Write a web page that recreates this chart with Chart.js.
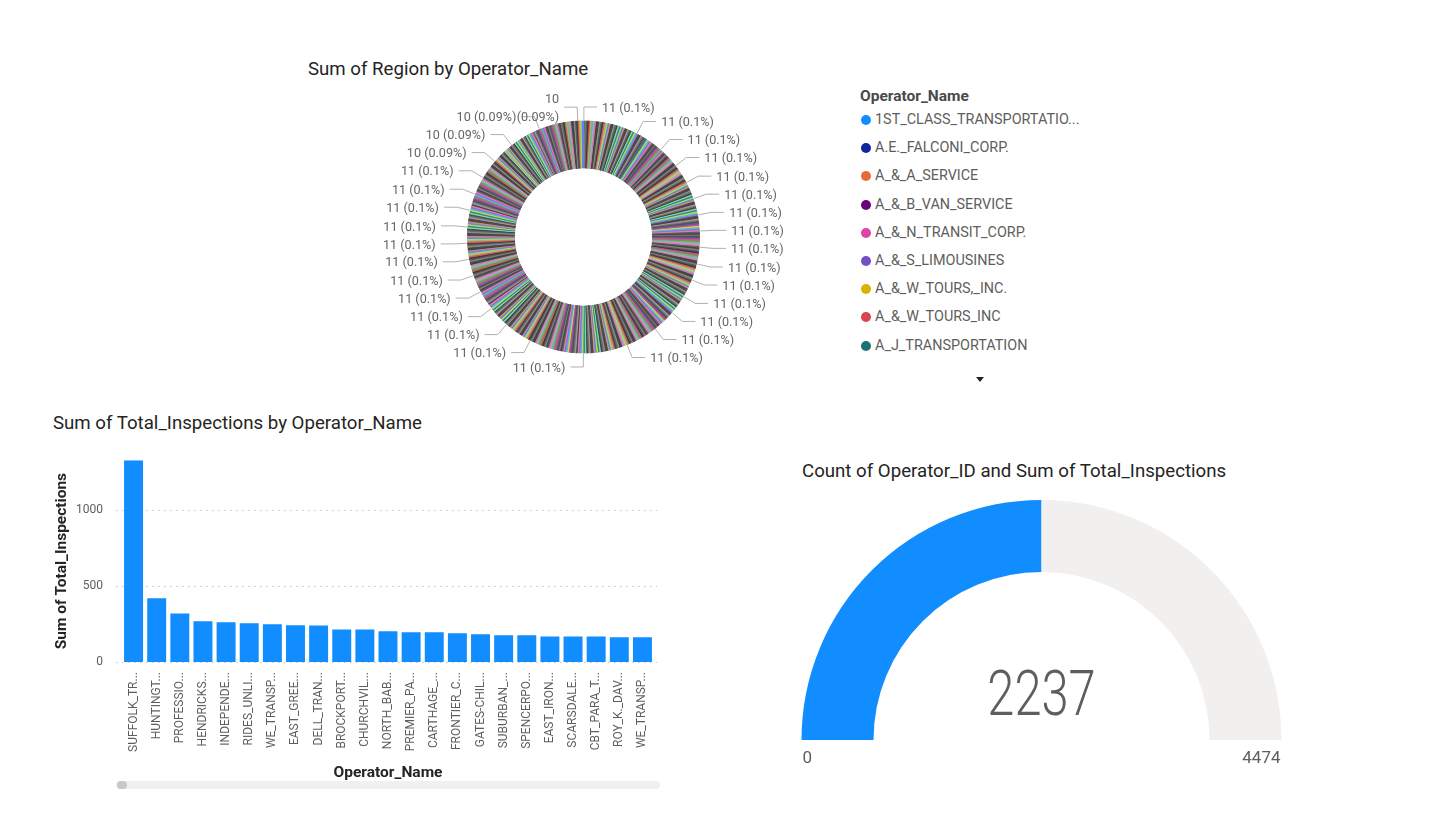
<!DOCTYPE html>
<html><head><meta charset="utf-8"><title>Operator dashboard</title>
<script src="https://cdn.jsdelivr.net/npm/chart.js@4.4.1/dist/chart.umd.min.js"></script>
<style>
html,body{margin:0;padding:0;background:#fff;}
body{width:1450px;height:822px;position:relative;overflow:hidden;font-family:Roboto,"Noto Sans",sans-serif;}
.abs{position:absolute;}
.vtitle{font-size:18.67px;line-height:20px;color:#252423;white-space:nowrap;}
canvas{position:absolute;display:block;}
.lg-title{position:absolute;left:860px;height:20px;line-height:20px;font-size:15.5px;font-weight:bold;color:#4A4A4A;white-space:nowrap;}
.lg-item{position:absolute;left:861px;height:20px;line-height:20px;font-size:14.4px;color:#605E5C;white-space:nowrap;}
.lg-dot{position:absolute;left:0;top:5px;width:10px;height:10px;border-radius:50%;}
.lg-text{position:absolute;left:14px;top:0;}
.lg-more{position:absolute;left:975.5px;top:377px;width:0;height:0;border-left:4px solid transparent;border-right:4px solid transparent;border-top:5px solid #252423;}
</style></head>
<body>
<div class="abs vtitle" style="left:308px;top:58.6px;">Sum of Region by Operator_Name</div>
<div class="abs vtitle" style="left:53px;top:412.6px;">Sum of Total_Inspections by Operator_Name</div>
<div class="abs vtitle" style="left:802px;top:460.6px;">Count of Operator_ID and Sum of Total_Inspections</div>
<div id="legend"></div>
<canvas id="donut" width="560" height="300" style="left:300px;top:85px;width:560px;height:300px;"></canvas>
<canvas id="bar" width="640" height="366" style="left:40px;top:434px;width:640px;height:366px;"></canvas>
<canvas id="gauge" width="520" height="300" style="left:781px;top:490px;width:520px;height:300px;"></canvas>
<div class="abs" style="left:116px;top:781px;width:544px;height:8px;border-radius:4px;background:#F0F0F0;"></div>
<div class="abs" style="left:117px;top:781px;width:10px;height:8px;border-radius:4px;background:#C8C8C8;"></div>
<script>
// ---------------- data ----------------
const legendTitle = 'Operator_Name';
const legendNames = ['1ST_CLASS_TRANSPORTATIO...','A.E._FALCONI_CORP.','A_&_A_SERVICE','A_&_B_VAN_SERVICE','A_&_N_TRANSIT_CORP.','A_&_S_LIMOUSINES','A_&_W_TOURS,_INC.','A_&_W_TOURS_INC','A_J_TRANSPORTATION'];
const legendColors = ['#118DFF','#12239E','#E66C37','#6B007B','#E044A7','#744EC2','#D9B300','#D64550','#197278'];

// Sum of Region per operator (donut slices, sorted descending)
const regionSums = [
/* 1-40 */    11,11,11,11,11,11,11,11,11,11, 11,11,11,11,11,11,11,11,11,11, 11,11,11,11,11,11,11,11,11,11, 11,11,11,11,11,11,11,11,11,11,
/* 41-80 */   11,11,11,11,11,11,11,11,11,11, 11,11,11,11,11,11,11,11,11,11, 11,11,11,11,11,11,11,11,11,11, 11,11,11,11,11,11,11,11,11,11,
/* 81-120 */  11,11,11,11,11,11,11,11,11,11, 11,11,11,11,11,11,11,11,11,11, 11,11,11,11,11,11,11,11,11,11, 11,11,11,11,11,11,11,11,11,11,
/* 121-160 */ 11,11,11,11,11,11,11,11,11,11, 11,11,11,11,11,11,11,11,11,11, 11,11,11,11,11,11,11,11,11,11, 11,11,11,11,11,11,11,11,11,11,
/* 161-200 */ 11,11,11,11,11,11,11,11,11,11, 11,11,11,11,11,11,11,11,11,11, 11,11,11,11,11,11,11,11,11,11, 11,11,11,11,11,11,11,11,11,11,
/* 201-240 */ 11,11,11,11,11,11,11,11,11,11, 11,11,11,11,11,11,11,11,11,11, 11,11,11,11,11,11,11,11,11,11, 11,11,11,11,11,11,11,11,11,11,
/* 241-280 */ 11,11,11,11,11,11,11,11,11,11, 11,11,11,11,11,11,11,11,11,11, 11,11,11,11,11,11,11,11,11,11, 11,11,11,11,11,11,11,11,11,11,
/* 281-320 */ 11,11,11,11,11,11,11,11,11,11, 11,11,11,11,11,11,11,11,11,11, 11,11,11,11,11,11,11,11,11,11, 11,11,11,11,11,11,11,11,11,11,
/* 321-360 */ 11,11,11,11,11,11,11,11,11,11, 11,11,11,11,11,11,11,11,11,11, 11,11,11,11,11,11,11,11,11,11, 11,11,11,11,11,11,11,11,11,11,
/* 361-400 */ 11,11,11,11,11,11,11,11,11,11, 11,11,11,11,11,11,11,11,11,11, 11,11,11,11,11,11,11,11,11,11, 11,11,11,11,11,11,11,11,11,11,
/* 401-440 */ 11,11,11,11,11,11,11,11,11,11, 11,11,11,11,11,11,11,11,11,11, 11,11,11,11,11,11,11,11,11,11, 11,11,11,11,11,11,11,11,11,11,
/* 441-480 */ 11,11,11,11,11,11,11,11,11,11, 11,11,11,11,11,11,11,11,11,11, 11,11,11,11,11,11,11,11,11,11, 11,11,11,11,11,11,11,11,11,11,
/* 481-520 */ 11,11,11,11,11,11,11,11,11,11, 11,11,11,11,11,11,11,11,11,11, 11,11,11,11,11,11,11,11,11,11, 11,11,11,11,11,11,11,11,11,11,
/* 521-560 */ 11,11,11,11,11,11,11,11,11,11, 11,11,11,11,11,11,11,11,11,11, 11,11,11,11,11,11,11,11,11,11, 11,11,11,11,11,11,11,11,11,11,
/* 561-600 */ 11,11,11,11,11,11,11,11,11,11, 11,11,11,11,11,11,11,11,11,11, 11,11,11,11,11,11,11,11,11,11, 11,11,11,11,11,11,11,11,11,11,
/* 601-640 */ 11,11,11,11,11,11,11,11,11,11, 11,11,11,11,11,11,11,11,11,11, 11,11,11,11,11,11,11,11,11,11, 11,11,11,11,11,11,11,11,11,11,
/* 641-680 */ 11,11,11,11,11,11,11,11,11,11, 11,11,11,11,11,11,11,11,11,11, 11,11,11,11,11,11,11,11,11,11, 11,11,11,11,11,11,11,11,11,11,
/* 681-720 */ 11,11,11,11,11,11,11,11,11,11, 11,11,11,11,11,11,11,11,11,11, 11,11,11,11,11,11,11,11,11,11, 11,11,11,11,11,11,11,11,11,11,
/* 721-760 */ 11,11,11,11,11,11,11,11,11,11, 11,11,11,11,11,11,11,11,11,11, 11,11,11,11,11,11,11,11,11,11, 11,11,11,11,11,11,11,11,11,11,
/* 761-800 */ 11,11,11,11,11,11,11,11,11,11, 11,11,11,11,11,11,11,11,11,11, 11,11,11,11,11,11,11,11,11,11, 11,11,11,11,11,11,11,11,11,11,
/* 801-840 */ 11,11,11,11,11,11,11,11,11,11, 11,11,11,11,11,11,11,11,11,11, 11,11,11,11,11,11,11,11,11,11, 11,11,11,11,11,11,11,11,11,11,
/* 841-880 */ 10,10,10,10,10,10,10,10,10,10, 10,10,10,10,10,10,10,10,10,10, 10,10,10,10,10,10,10,10,10,10, 10,10,10,10,10,10,10,10,10,10,
/* 881-920 */ 10,10,10,10,10,10,10,10,10,10, 10,10,10,10,10,10,10,10,10,10, 10,10,10,10,10,10,10,10,10,10, 10,10,10,10,10,10,10,10,10,10,
/* 921-960 */ 10,10,10,10,10,10,10,10,10,10, 10,10,10,10,10,10,10,10,10,10, 10,10,10,10,10,10,10,10,10,10, 10,10,10,10,10,10,10,10,10,10,
/* 961-1000 */10,10,10,10,10,10,10,10,10,10, 10,10,10,10,10,10,10,10,10,10, 10,10,10,10,10,10,10,10,10,10, 10,10,10,10,10,10,10,10,10,10,
/* 1001-1010 */10,10,10,10,10,10,10,10,10,10
];

const barCategories = ['SUFFOLK_TR...','HUNTINGT...','PROFESSIO...','HENDRICKS...','INDEPENDE...','RIDES_UNLI...','WE_TRANSP...','EAST_GREE...','DELL_TRAN...','BROCKPORT...','CHURCHVIL...','NORTH_BAB...','PREMIER_PA...','CARTHAGE_...','FRONTIER_C...','GATES-CHIL...','SUBURBAN_...','SPENCERPO...','EAST_IRON...','SCARSDALE...','CBT_PARA_T...','ROY_K._DAV...','WE_TRANSP...'];
const barValues = [1324,418,319,267,260,254,247,241,240,214,214,201,195,195,188,182,175,175,168,168,168,162,162];
const barTicks = [0, 500, 1000];

const gaugeValue = 2237;
const gaugeMin = 0;
const gaugeMax = 4474;

// ---------------- styles ----------------
Chart.defaults.font.family = 'Roboto, "Noto Sans", sans-serif';
Chart.defaults.color = '#605E5C';

const sliceTones = ['#3A3A3A','#444444','#4F4F4F','#5A5A5A','#666666','#727272','#7F7F7F','#8C8C8C','#9A9A9A','#4A4540','#45493F','#4D434A','#5B5F66','#404448','#524B45',
  '#E07BAA','#C97E9A','#D08C86','#9C6AD8','#B39DDB','#5F86E0','#3EC2D8','#5AC574','#9FDC63','#C7D84A','#8C8A58','#BFA377','#36837F','#CC4AA4','#D05A5A','#7ED9B3','#6E5890'];
const sliceColors = regionSums.map((v, i) => sliceTones[((Math.floor(i / 2) + 7) * 2654435761 >>> 9) % sliceTones.length]);

// ---------------- legend (html) ----------------
(function buildLegend(){
  const host = document.getElementById('legend');
  const t = document.createElement('div');
  t.className = 'lg-title'; t.style.top = '85.7px'; t.textContent = legendTitle;
  host.appendChild(t);
  legendNames.forEach((name, i) => {
    const it = document.createElement('div');
    it.className = 'lg-item';
    it.style.top = (110 + 28.2 * i) + 'px';
    const d = document.createElement('div'); d.className = 'lg-dot'; d.style.background = legendColors[i];
    const s = document.createElement('div'); s.className = 'lg-text'; s.textContent = name;
    it.appendChild(d); it.appendChild(s); host.appendChild(it);
  });
  const m = document.createElement('div'); m.className = 'lg-more'; host.appendChild(m);
})();

// ---------------- donut with outside labels ----------------
const outsideLabels = {
  id: 'outsideLabels',
  afterDatasetsDraw(chart){
    const meta = chart.getDatasetMeta(0);
    const vals = chart.data.datasets[0].data;
    const total = vals.reduce((s, v) => s + v, 0);
    const ctx = chart.ctx;
    const first = meta.data[0];
    const cx = first.x, cy = first.y, R = first.outerRadius;
    const r2 = R + 14, HL = 13, GAP = 5, LH = 17.9, TY = 1.5;
    ctx.save();
    ctx.font = '12.6px Roboto, "Noto Sans", sans-serif';
    const placed = [];
    const hits = (b, m) => placed.some(q => b.x0 < q.x1 + m && q.x0 < b.x1 + m && b.y0 < q.y1 && q.y0 < b.y1);
    meta.data.forEach((el, i) => {
      const a = (el.startAngle + el.endAngle) / 2;
      const ux = Math.cos(a), uy = Math.sin(a);
      const side = ux >= 0 ? 1 : -1;
      const ex = cx + r2 * ux, ey = cy + r2 * uy;
      const tx = ex + side * (HL + GAP);
      const v = vals[i];
      const pct = Math.round(v / total * 10000) / 100;
      const one = v + ' (' + pct + '%)';
      const w1 = ctx.measureText(one).width;
      let box = {x0: side > 0 ? tx : tx - w1, x1: side > 0 ? tx + w1 : tx, y0: ey - LH / 2, y1: ey + LH / 2, lines: [one]};
      if (hits(box, 6)) {
        if (Math.abs(ux) >= 0.1 || uy > 0) return;
        const l1 = String(v), l2 = '(' + pct + '%)';
        const w2 = Math.max(ctx.measureText(l1).width, ctx.measureText(l2).width);
        box = {x0: side > 0 ? tx : tx - w2, x1: side > 0 ? tx + w2 : tx, y0: ey - LH, y1: ey + LH, lines: [l1, l2]};
        if (hits(box, 0)) return;
      }
      Object.assign(box, {ax: cx + (R + 1) * ux, ay: cy + (R + 1) * uy, ex, ey, side, tx});
      placed.push(box);
    });
    ctx.strokeStyle = '#B3B0AD'; ctx.lineWidth = 1;
    placed.forEach(b => {
      ctx.beginPath(); ctx.moveTo(b.ax, b.ay); ctx.lineTo(b.ex, b.ey); ctx.lineTo(b.ex + b.side * HL, b.ey); ctx.stroke();
    });
    ctx.fillStyle = '#666666'; ctx.textBaseline = 'middle';
    placed.forEach(b => {
      ctx.textAlign = b.side > 0 ? 'left' : 'right';
      if (b.lines.length === 1) ctx.fillText(b.lines[0], b.tx, b.ey + TY);
      else { ctx.fillText(b.lines[0], b.tx, b.ey - LH / 2 + TY); ctx.fillText(b.lines[1], b.tx, b.ey + LH / 2 + TY); }
    });
    ctx.restore();
  }
};

new Chart(document.getElementById('donut'), {
  type: 'doughnut',
  data: { datasets: [{ data: regionSums, backgroundColor: sliceColors, borderColor: sliceColors, borderWidth: 1 }] },
  options: {
    responsive: false, animation: false, events: [],
    cutout: '59.5%',
    layout: { padding: { left: 167, right: 160, top: 35.5, bottom: 31.5 } },
    plugins: { legend: { display: false }, tooltip: { enabled: false } }
  },
  plugins: [outsideLabels]
});

// ---------------- bar chart ----------------
const dotGrid = {
  id: 'dotGrid',
  beforeDatasetsDraw(chart){
    const {ctx, chartArea: a, scales: {y}} = chart;
    ctx.save();
    ctx.strokeStyle = '#C4C4C4'; ctx.lineWidth = 1; ctx.setLineDash([1.5, 4.5]);
    y.ticks.forEach(t => {
      const py = Math.round(y.getPixelForValue(t.value)) + 0.5;
      ctx.beginPath(); ctx.moveTo(a.left - 6, py); ctx.lineTo(a.right + 3, py); ctx.stroke();
    });
    ctx.restore();
  }
};

new Chart(document.getElementById('bar'), {
  type: 'bar',
  data: { labels: barCategories, datasets: [{ data: barValues, backgroundColor: '#118DFF', borderWidth: 0, categoryPercentage: 1, barPercentage: 0.82 }] },
  options: {
    responsive: false, animation: false, events: [],
    layout: { autoPadding: false, padding: { left: 0, right: 26, top: 20, bottom: 18 } },
    plugins: { legend: { display: false }, tooltip: { enabled: false } },
    scales: {
      x: {
        grid: { display: false, drawTicks: false }, border: { display: false },
        ticks: { autoSkip: false, maxRotation: 90, minRotation: 90, padding: 10, color: '#605E5C', font: { size: 12 } },
        title: { display: true, text: 'Operator_Name', color: '#252423', font: { size: 15.5, weight: 'bold' }, padding: { top: 0, bottom: 0 } },
        afterFit(s){ s.height = 120; }
      },
      y: {
        min: 0, max: Math.max(...barValues),
        grid: { display: false, drawTicks: false }, border: { display: false },
        afterBuildTicks(s){ s.ticks = barTicks.map(v => ({ value: v })); },
        ticks: { padding: 19, color: '#605E5C', font: { size: 12 }, callback: v => String(v) },
        title: { display: true, text: 'Sum of Total_Inspections', color: '#252423', font: { size: 15.5, weight: 'bold' }, padding: { top: 13, bottom: 0 } },
        afterFit(s){ s.width = 82; }
      }
    }
  },
  plugins: [dotGrid]
});

// ---------------- gauge ----------------
const gaugeText = {
  id: 'gaugeText',
  afterDraw(chart){
    const arc = chart.getDatasetMeta(0).data[0];
    const cx = arc.x, cy = arc.y, R = arc.outerRadius;
    const ctx = chart.ctx;
    ctx.save();
    ctx.fillStyle = '#605E5C';
    ctx.textBaseline = 'alphabetic';
    ctx.save();
    ctx.translate(cx, cy - 25);
    ctx.scale(0.775, 1);
    ctx.font = '300 63px Roboto, "Noto Sans", sans-serif';
    ctx.textAlign = 'center';
    ctx.fillText(String(gaugeValue), 0, 0);
    ctx.restore();
    ctx.font = '17px Roboto, "Noto Sans", sans-serif';
    ctx.textAlign = 'left';
    ctx.fillText(String(gaugeMin), cx - R + 1, cy + 23);
    ctx.textAlign = 'right';
    ctx.fillText(String(gaugeMax), cx + R - 1, cy + 23);
    ctx.restore();
  }
};

new Chart(document.getElementById('gauge'), {
  type: 'doughnut',
  data: { datasets: [{ data: [gaugeValue - gaugeMin, gaugeMax - gaugeValue], backgroundColor: ['#118DFF', '#F1F0EF'], borderWidth: 0 }] },
  options: {
    responsive: false, animation: false, events: [],
    rotation: -90, circumference: 180, cutout: '70%',
    layout: { padding: { left: 20, right: 19, top: 10, bottom: 50 } },
    plugins: { legend: { display: false }, tooltip: { enabled: false } }
  },
  plugins: [gaugeText]
});
</script>
</body></html>
